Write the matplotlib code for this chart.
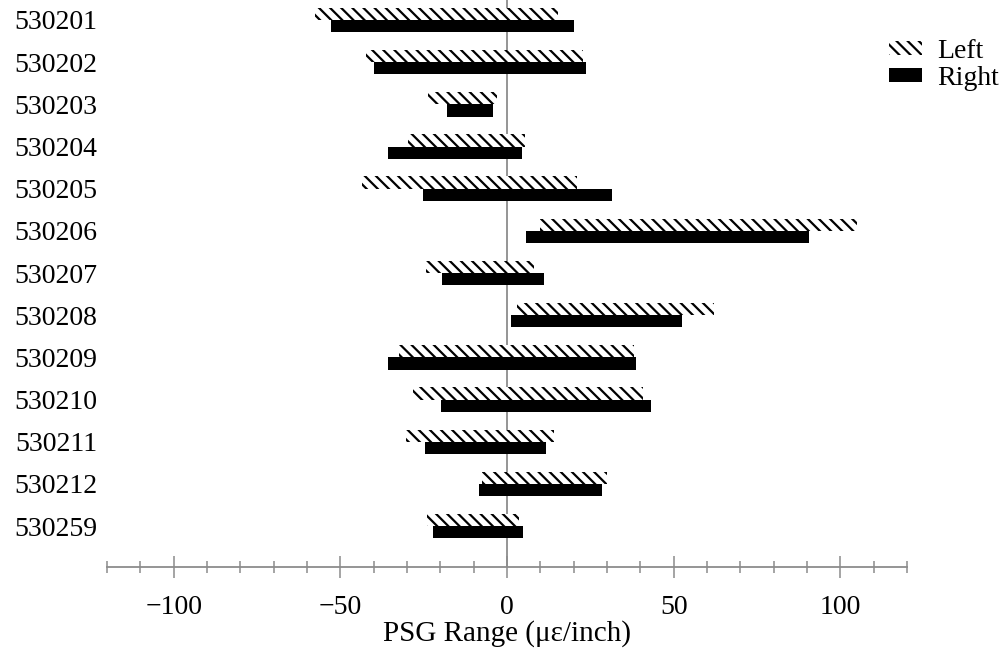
import matplotlib
matplotlib.use("Agg")
import matplotlib.pyplot as plt
import numpy as np
from matplotlib.patches import Patch

plt.rcParams["font.family"] = ["Liberation Serif", "DejaVu Serif"]
plt.rcParams["hatch.linewidth"] = 1.6

# PSG sensor IDs (top to bottom)
sensors = ["530201", "530202", "530203", "530204", "530205", "530206", "530207",
           "530208", "530209", "530210", "530211", "530212", "530259"]

# min / max of the range, in micro-strain per inch
left_min = [-57.5, -42.3, -23.6, -29.6, -43.6, 9.9, -24.4, 3.1, -32.4, -28.1, -30.4, -7.6, -24.1]
left_max = [15.2, 22.9, -2.9, 5.4, 20.9, 104.9, 8.2, 62.1, 38.1, 40.9, 14.1, 30.1, 3.6]
right_min = [-52.8, -39.9, -18.1, -35.8, -25.1, 5.6, -19.4, 1.2, -35.8, -19.8, -24.6, -8.3, -22.3]
right_max = [20.1, 23.7, -4.1, 4.4, 31.4, 90.6, 11.2, 52.6, 38.7, 43.2, 11.6, 28.4, 4.7]

y = np.arange(len(sensors))
h = 0.29
GRAY = "#8c8c8c"
HATCH = "\\\\\\"

fig = plt.figure(figsize=(10.05, 6.51), dpi=100)
ax = fig.add_axes([107 / 1005, 84 / 651, 800 / 1005, 567 / 651])

lmin = np.array(left_min)
lmax = np.array(left_max)
rmin = np.array(right_min)
rmax = np.array(right_max)

ax.axvline(0, color=GRAY, lw=1.3, zorder=1)
ax.barh(y, lmax - lmin, left=lmin, height=h, align="edge",
        color="white", edgecolor="black", hatch=HATCH, linewidth=0, zorder=2)
ax.barh(y + h, rmax - rmin, left=rmin, height=h, align="edge",
        color="black", linewidth=0, zorder=2)

ax.set_xlim(-120, 120)
ax.set_ylim(12.97 + h, -0.474 + h)
ax.set_yticks(y + h)
ax.set_yticklabels(sensors, fontsize=20)
ax.tick_params(axis="y", length=0, pad=7)

ax.set_xticks([-100, -50, 0, 50, 100])
ax.set_xticklabels(["\u2212100", "\u221250", "0", "50", "100"], fontsize=20)
ax.set_xticks(np.arange(-120, 121, 10), minor=True)
ax.tick_params(axis="x", which="major", direction="inout", length=16, width=1.1,
               color=GRAY, pad=12)
ax.tick_params(axis="x", which="minor", direction="inout", length=8, width=1.1,
               color=GRAY)
ax.set_xlabel("PSG Range (\u03bc\u03b5/inch)", fontsize=21, labelpad=0)

for s in ["top", "right", "left"]:
    ax.spines[s].set_visible(False)
ax.spines["bottom"].set_color(GRAY)
ax.spines["bottom"].set_linewidth(1.3)

handles = [Patch(facecolor="white", edgecolor="black", hatch=HATCH, linewidth=0),
           Patch(facecolor="black", linewidth=0)]
fig.legend(handles, ["Left", "Right"], loc="upper right",
           bbox_to_anchor=(1.0, 0.948), frameon=False, fontsize=20,
           handlelength=1.22, handleheight=0.4, handletextpad=0.55,
           labelspacing=0.05, borderaxespad=0.0, borderpad=0.2)

fig.savefig("out.png", dpi=100)
